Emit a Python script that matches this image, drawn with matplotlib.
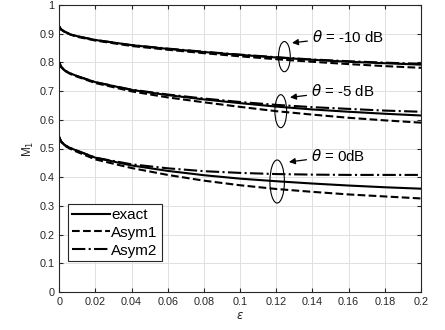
import numpy as np
import matplotlib
matplotlib.use("Agg")
import matplotlib.pyplot as plt
from matplotlib.patches import Ellipse

plt.rcParams['font.family'] = ['Liberation Sans', 'DejaVu Sans']
plt.rcParams['mathtext.fontset'] = 'dejavusans'

eps = [0, 0.001, 0.003, 0.006, 0.01, 0.02, 0.04, 0.06, 0.08, 0.1, 0.12, 0.14, 0.16, 0.18, 0.2]

# theta = -10 dB
exact_m10 = [0.925, 0.915, 0.907, 0.898, 0.891, 0.878, 0.86, 0.847, 0.836, 0.826, 0.817, 0.809, 0.802, 0.797, 0.792]
asym1_m10 = [0.925, 0.915, 0.906, 0.897, 0.889, 0.876, 0.857, 0.844, 0.832, 0.821, 0.811, 0.802, 0.794, 0.787, 0.781]
asym2_m10 = [0.925, 0.915, 0.907, 0.898, 0.891, 0.878, 0.86, 0.848, 0.837, 0.827, 0.818, 0.810, 0.804, 0.799, 0.795]

# theta = -5 dB
exact_m5 = [0.80, 0.785, 0.772, 0.762, 0.752, 0.731, 0.704, 0.686, 0.671, 0.658, 0.646, 0.636, 0.628, 0.621, 0.615]
asym1_m5 = [0.80, 0.785, 0.771, 0.760, 0.750, 0.728, 0.699, 0.678, 0.661, 0.645, 0.630, 0.618, 0.607, 0.598, 0.590]
asym2_m5 = [0.80, 0.785, 0.772, 0.762, 0.752, 0.731, 0.705, 0.688, 0.674, 0.662, 0.652, 0.644, 0.638, 0.632, 0.628]

# theta = 0 dB
exact_0 = [0.54, 0.525, 0.512, 0.502, 0.492, 0.468, 0.441, 0.422, 0.407, 0.395, 0.386, 0.378, 0.371, 0.365, 0.36]
asym1_0 = [0.54, 0.524, 0.510, 0.499, 0.488, 0.462, 0.432, 0.408, 0.388, 0.372, 0.359, 0.349, 0.340, 0.333, 0.326]
asym2_0 = [0.54, 0.525, 0.512, 0.502, 0.492, 0.468, 0.445, 0.431, 0.421, 0.415, 0.411, 0.409, 0.408, 0.408, 0.408]

fig = plt.figure(figsize=(4.45, 3.3), dpi=100)
ax = fig.add_axes([0.133, 0.115, 0.813, 0.87])

lw = 1.5
ax.plot(eps, exact_m10, 'k-', lw=lw, label='exact')
ax.plot(eps, asym1_m10, 'k--', lw=lw, label='Asym1')
ax.plot(eps, asym2_m10, 'k-.', lw=lw, label='Asym2')
for e, a1, a2 in [(exact_m5, asym1_m5, asym2_m5), (exact_0, asym1_0, asym2_0)]:
    ax.plot(eps, e, 'k-', lw=lw)
    ax.plot(eps, a1, 'k--', lw=lw)
    ax.plot(eps, a2, 'k-.', lw=lw)

# ellipses marking each group
for cx, cy, w, h in [(0.1245, 0.82, 0.0065, 0.105), (0.1225, 0.63, 0.0065, 0.115), (0.1205, 0.385, 0.008, 0.15)]:
    ax.add_patch(Ellipse((cx, cy), w, h, fill=False, ec='k', lw=0.8))

labels = [r'$\theta$ = -10 dB', r'$\theta$ = -5 dB', r'$\theta$ = 0dB']
tpos = [(0.1395, 0.89), (0.1390, 0.70), (0.1390, 0.475)]
apos = [(0.1287, 0.868), (0.1276, 0.678), (0.1270, 0.453)]
for lab, t, a in zip(labels, tpos, apos):
    ax.annotate(lab, xy=a, xytext=t, fontsize=10.8, va='center', ha='left',
                arrowprops=dict(arrowstyle='-|>', color='k', lw=0.9, mutation_scale=9,
                                shrinkA=1, shrinkB=0))

ax.set_xlim(0, 0.2)
ax.set_ylim(0, 1)
ax.set_xticks(np.arange(0, 0.201, 0.02))
ax.set_xticklabels(['0', '0.02', '0.04', '0.06', '0.08', '0.1', '0.12', '0.14', '0.16', '0.18', '0.2'])
ax.set_yticks(np.arange(0, 1.01, 0.1))
ax.set_yticklabels(['0', '0.1', '0.2', '0.3', '0.4', '0.5', '0.6', '0.7', '0.8', '0.9', '1'])
ax.tick_params(direction='in', top=True, right=True, labelsize=7.8, length=3, color='#262626', labelcolor='#262626')
ax.grid(True, color='#e0e0e0', lw=0.7)
ax.set_axisbelow(True)
for s in ax.spines.values():
    s.set_color('#262626')
    s.set_linewidth(0.8)

ax.set_xlabel(r'$\epsilon$', fontsize=8.5, color='#262626', labelpad=2)
ax.set_ylabel(r'M$_1$', fontsize=8.5, color='#262626', labelpad=2)

leg = ax.legend(loc='lower left', bbox_to_anchor=(0.024, 0.107), fontsize=11, handlelength=2.5,
                handletextpad=0.1, borderpad=0.25, labelspacing=0.25, fancybox=False,
                edgecolor='#262626', framealpha=1, borderaxespad=0)
leg.get_frame().set_linewidth(0.8)

fig.savefig('out.png', dpi=100)
